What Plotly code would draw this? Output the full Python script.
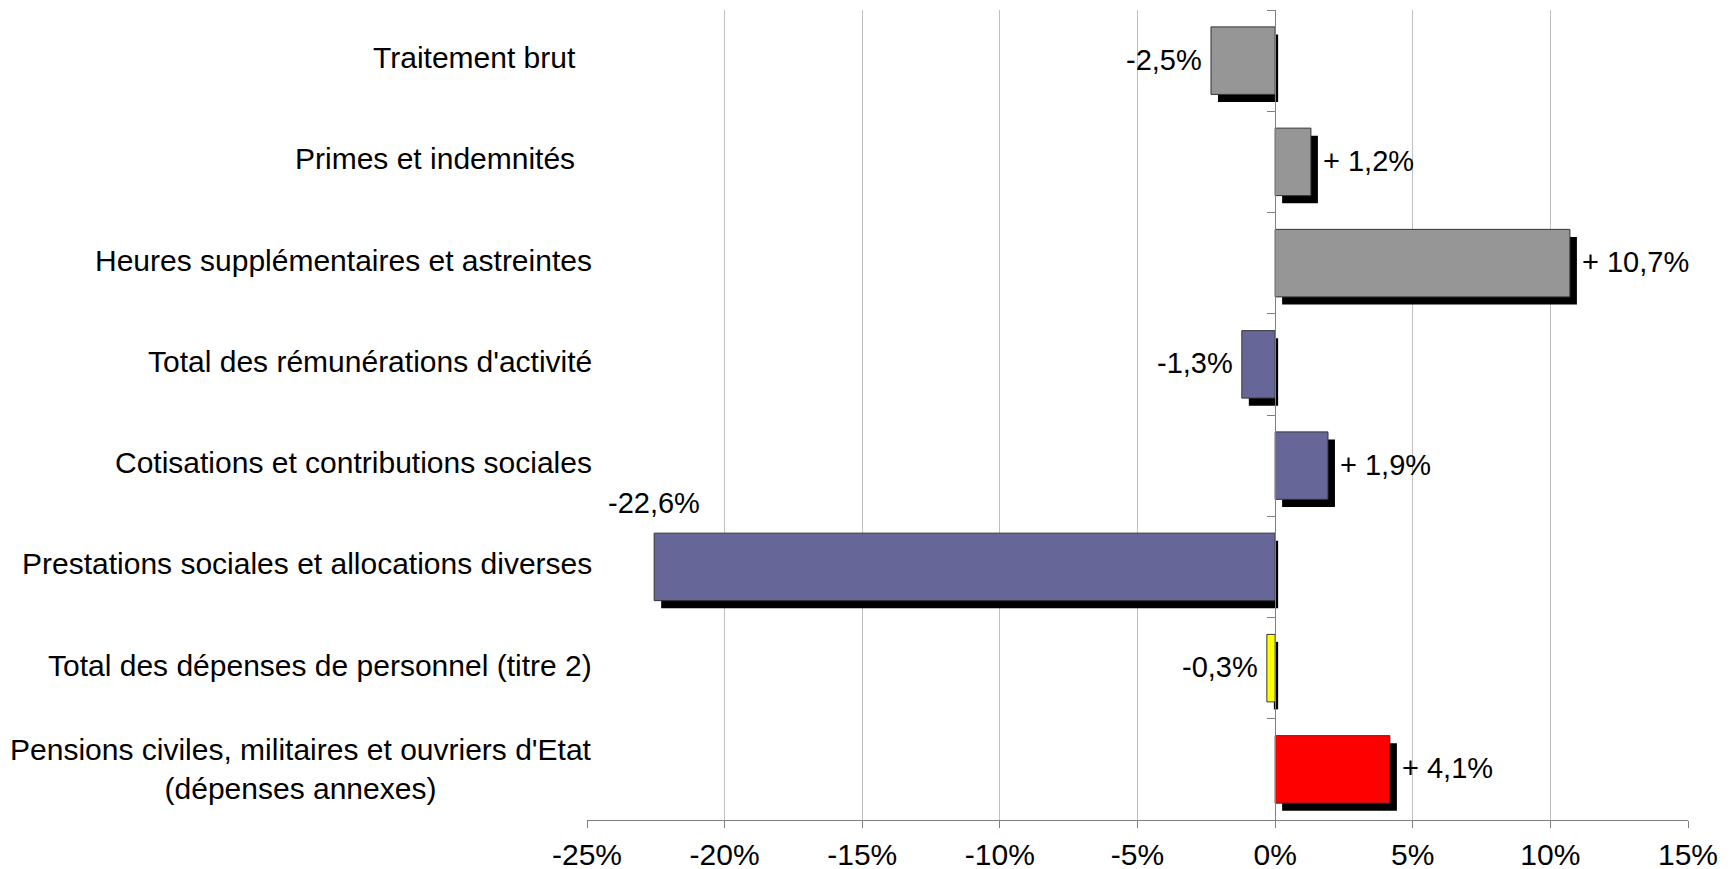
import plotly.graph_objects as go

# ---- data ----
categories = [
    "Traitement brut",
    "Primes et indemnités",
    "Heures supplémentaires et astreintes",
    "Total des rémunérations d'activité",
    "Cotisations et contributions sociales",
    "Prestations sociales et allocations diverses",
    "Total des dépenses de personnel (titre 2)",
    "Pensions civiles, militaires et ouvriers d'Etat<br>(dépenses annexes)",
]
category_labels = [
    "Traitement brut\u00a0\u00a0",
    "Primes et indemnités\u00a0\u00a0",
    "Heures supplémentaires et astreintes",
    "Total des rémunérations d'activité",
    "Cotisations et contributions sociales",
    "Prestations sociales et allocations diverses",
    "Total des dépenses de personnel (titre 2)",
    "Pensions civiles, militaires et ouvriers d'Etat<br>(dépenses annexes)",
]
values = [-2.33, 1.30, 10.71, -1.21, 1.92, -22.56, -0.30, 4.17]
value_labels = ["-2,5%", "+ 1,2%", "+ 10,7%", "-1,3%", "+ 1,9%", "-22,6%", "-0,3%", "+ 4,1%"]
x_ticks = [-25, -20, -15, -10, -5, 0, 5, 10, 15]
x_tick_labels = ["-25%", "-20%", "-15%", "-10%", "-5%", "0%", "5%", "10%", "15%"]

# ---- styles ----
bar_colors = ["#969696", "#969696", "#969696", "#666699", "#666699", "#666699", "#FFFF00", "#FF0000"]
FONT = "Liberation Sans, Arial, sans-serif"
FS_CAT, FS_VAL, FS_TICK = 30, 29, 30
W, H = 1734, 869
PAGE_OFF = 8  # page body margin compensation
L, R, T, B = 587 - PAGE_OFF, 1688 - PAGE_OFF, 10 - PAGE_OFF, 820 - PAGE_OFF
LABEL_RIGHT = 594 - PAGE_OFF
XMIN, XMAX = x_ticks[0], x_ticks[-1]
NCAT = len(categories)
BARW = 2 / 3
px_per_x = (R - L) / (XMAX - XMIN)
px_per_cat = (B - T) / NCAT
SH_DX, SH_DY, SH_NEG_END = 7.0, 7.5, 3.0

dx = SH_DX / px_per_x
dy = SH_DY / px_per_cat
neg_end = SH_NEG_END / px_per_x
shadow_base = [dx if v >= 0 else neg_end for v in values]
shadow_len = [v if v >= 0 else v + dx - neg_end for v in values]

fig = go.Figure()
fig.add_trace(go.Bar(
    y=categories, x=shadow_len, base=shadow_base, orientation="h",
    width=BARW, offset=-BARW / 2 + dy,
    marker=dict(color="#000000", line=dict(width=0)),
    hoverinfo="skip", showlegend=False,
))
fig.add_trace(go.Bar(
    y=categories, x=values, orientation="h",
    width=BARW, offset=-BARW / 2,
    marker=dict(color=bar_colors, line=dict(color="#333333", width=1)),
    showlegend=False,
))
# helper trace so the zero-position category axis (ticks) is drawn
fig.add_trace(go.Scatter(
    x=[0], y=[0], yaxis="y2", mode="markers",
    marker=dict(opacity=0), hoverinfo="skip", showlegend=False,
))

annotations = []
for i, (cat, lab) in enumerate(zip(categories, category_labels)):
    multi = "<br>" in lab
    annotations.append(dict(
        xref="paper", yref="y", x=(LABEL_RIGHT - L) / (R - L), y=cat,
        text=lab, showarrow=False, xanchor="right", align="center",
        yshift=0 if multi else 3,
        font=dict(family=FONT, size=FS_CAT, color="#000000"),
    ))

for i, (cat, v, t) in enumerate(zip(categories, values, value_labels)):
    est_w = len(t) * 0.6 * FS_VAL / px_per_x
    if v >= 0:
        a = dict(x=v, xanchor="left", xshift=10.5, yshift=1)
    elif v - est_w > XMIN:
        a = dict(x=v, xanchor="right", xshift=-7, yshift=1)
    else:
        a = dict(x=v, xanchor="center", yshift=BARW * px_per_cat / 2 + 30)
    a.update(xref="x", yref="y", y=cat, text=t, showarrow=False,
             font=dict(family=FONT, size=FS_VAL, color="#000000"))
    annotations.append(a)

fig.update_layout(
    width=W, height=H,
    margin=dict(l=L, r=W - R, t=T, b=H - B, pad=0),
    paper_bgcolor="white", plot_bgcolor="white",
    barmode="overlay",
    font=dict(family=FONT, size=FS_TICK, color="#000000"),
    xaxis=dict(
        range=[XMIN, XMAX], tickmode="array", tickvals=x_ticks, ticktext=x_tick_labels,
        showgrid=True, gridcolor="#BFBFBF", gridwidth=1, zeroline=False,
        showline=True, linecolor="#808080", linewidth=1,
        ticks="outside", ticklen=7, tickcolor="#808080", tickwidth=1,
        ticklabelstandoff=1,
        tickfont=dict(family=FONT, size=FS_TICK, color="#000000"),
    ),
    yaxis=dict(
        type="category", categoryorder="array", categoryarray=categories,
        range=[NCAT - 0.5, -0.5], showticklabels=False, showgrid=False,
        zeroline=False, showline=False, ticks="",
    ),
    yaxis2=dict(
        overlaying="y", anchor="free", side="left",
        position=(0 - XMIN) / (XMAX - XMIN),
        range=[NCAT - 0.5, -0.5], tickmode="array",
        tickvals=[k - 0.5 for k in range(NCAT + 1)],
        showticklabels=False, showgrid=False, zeroline=False,
        showline=True, linecolor="#808080", linewidth=1,
        ticks="outside", ticklen=8, tickcolor="#808080", tickwidth=1,
    ),
    annotations=annotations,
)

fig.write_html("out.html")
